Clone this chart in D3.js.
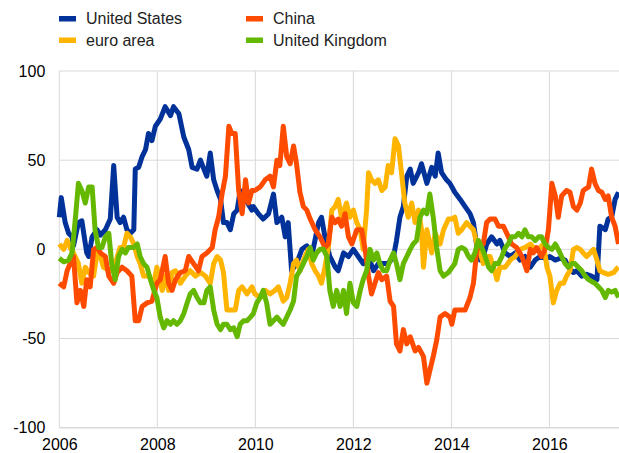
<!DOCTYPE html>
<html>
<head>
<meta charset="utf-8">
<script src="https://cdn.jsdelivr.net/npm/d3@7"></script>
<style>
  html, body { margin: 0; padding: 0; background: #fff; }
  svg { display: block; font-family: "Liberation Sans", Arial, sans-serif; }
</style>
</head>
<body>
<svg id="chart" width="619" height="453"></svg>
<script>
// Series: [decimal year, value]
const unitedStates = [
  [2006.00,18],[2006.04,29],[2006.12,15],[2006.19,9],[2006.26,7],[2006.29,2],[2006.39,15],[2006.46,16],
  [2006.56,-2],[2006.60,-4],[2006.67,7],[2006.77,11],[2006.84,8],[2006.94,11],[2007.04,17],[2007.11,47],
  [2007.18,18],[2007.24,15],[2007.31,18],[2007.38,11],[2007.45,9],[2007.52,11],[2007.55,45],[2007.62,46],
  [2007.69,52],[2007.76,56],[2007.82,65],[2007.89,61],[2007.96,69],[2008.06,73],[2008.16,80],[2008.27,75],
  [2008.33,80],[2008.44,76],[2008.54,63],[2008.64,56],[2008.71,46],[2008.81,45],[2008.88,50],[2008.95,45],
  [2009.01,41],[2009.08,54],[2009.15,39],[2009.22,33],[2009.29,28],[2009.35,15],[2009.42,15],[2009.49,11],
  [2009.56,20],[2009.63,22],[2009.69,33],[2009.80,28],[2009.93,22],[2009.96,24],[2010.06,20],[2010.16,17],
  [2010.27,20],[2010.37,31],[2010.44,15],[2010.54,18],[2010.61,7],[2010.67,15],[2010.74,-12],[2010.84,-8],
  [2010.95,0],[2011.05,2],[2011.15,-4],[2011.29,15],[2011.35,18],[2011.42,7],[2011.52,-4],[2011.63,-10],
  [2011.69,-12],[2011.80,-2],[2011.90,-4],[2012.00,0],[2012.10,-4],[2012.20,-8],[2012.31,-4],[2012.41,-12],
  [2012.51,-8],[2012.61,-8],[2012.71,-8],[2012.82,-4],[2012.88,5],[2012.95,18],[2013.02,24],[2013.09,41],
  [2013.16,45],[2013.22,37],[2013.33,43],[2013.39,48],[2013.50,37],[2013.60,46],[2013.67,41],[2013.73,54],
  [2013.80,43],[2013.90,39],[2013.97,37],[2014.07,32],[2014.18,28],[2014.28,24],[2014.38,20],[2014.45,15],
  [2014.52,1.5],[2014.59,-6],[2014.65,-4],[2014.72,3],[2014.82,7],[2014.93,3],[2014.99,5],[2015.10,-2],
  [2015.20,-4],[2015.30,-2],[2015.40,-6],[2015.50,-4],[2015.61,-10],[2015.71,-6],[2015.81,-4],[2015.91,-5],
  [2016.01,-4],[2016.12,-6],[2016.22,-5],[2016.32,-6],[2016.39,-10],[2016.49,-13],[2016.56,-12],[2016.66,-15],
  [2016.76,-14],[2016.86,-15],[2016.97,-17],[2017.03,13],[2017.14,11],[2017.20,17],[2017.27,18],[2017.34,28],
  [2017.41,32]
];

const euroArea = [
  [2006.00,3],[2006.09,0],[2006.16,5],[2006.22,1],[2006.29,-2],[2006.39,-8],[2006.46,-19],[2006.53,-10],
  [2006.60,-13],[2006.70,-15],[2006.77,-2],[2006.84,-4],[2006.90,-10],[2007.04,-12],[2007.14,-8],[2007.24,1],
  [2007.31,1],[2007.38,9],[2007.45,7],[2007.52,3],[2007.59,-4],[2007.65,-8],[2007.72,-15],[2007.82,-15],
  [2007.93,-19],[2007.99,-10],[2008.10,-23],[2008.16,-15],[2008.23,-23],[2008.30,-13],[2008.37,-12],[2008.47,-19],
  [2008.57,-15],[2008.67,-12],[2008.78,-15],[2008.88,-13],[2008.98,-15],[2009.08,-19],[2009.15,-8],[2009.22,-4],
  [2009.29,-6],[2009.35,-13],[2009.42,-34],[2009.49,-34],[2009.59,-34],[2009.66,-23],[2009.73,-21],[2009.83,-25],
  [2009.93,-21],[2009.99,-25],[2010.10,-27],[2010.20,-23],[2010.30,-25],[2010.40,-23],[2010.47,-21],[2010.57,-29],
  [2010.64,-27],[2010.71,-19],[2010.78,-8],[2010.84,-6],[2010.91,-12],[2011.01,-4],[2011.08,0],[2011.15,-8],
  [2011.22,-12],[2011.29,-15],[2011.35,-19],[2011.42,-10],[2011.49,1],[2011.56,22],[2011.63,24],[2011.69,28],
  [2011.76,18],[2011.86,26],[2011.93,18],[2012.00,22],[2012.07,15],[2012.14,11],[2012.20,0],[2012.27,22],
  [2012.31,43],[2012.37,39],[2012.44,37],[2012.51,39],[2012.58,33],[2012.65,35],[2012.71,47],[2012.78,43],
  [2012.85,62],[2012.92,58],[2012.99,41],[2013.05,26],[2013.12,18],[2013.19,26],[2013.26,15],[2013.33,22],
  [2013.39,11],[2013.43,-10],[2013.50,11],[2013.60,-2],[2013.67,9],[2013.77,3],[2013.84,11],[2013.94,17],
  [2014.01,17],[2014.07,18],[2014.14,9],[2014.21,11],[2014.31,15],[2014.38,13],[2014.45,11],[2014.52,3],
  [2014.59,-2],[2014.65,-8],[2014.72,-4],[2014.79,-4],[2014.86,-10],[2014.93,-17],[2014.99,-10],[2015.10,-10],
  [2015.20,-6],[2015.30,-4],[2015.40,0],[2015.50,1],[2015.61,3],[2015.71,0],[2015.81,1],[2015.88,3],
  [2015.95,-10],[2016.01,-15],[2016.08,-30],[2016.15,-23],[2016.22,-19],[2016.29,-19],[2016.35,-15],[2016.42,-12],
  [2016.49,0],[2016.56,1],[2016.63,0],[2016.69,-2],[2016.76,-4],[2016.83,-2],[2016.90,0],[2016.97,-6],
  [2017.03,-12],[2017.10,-13],[2017.20,-14],[2017.31,-13],[2017.37,-11],[2017.41,-10]
];

const china = [
  [2006.00,-19],[2006.09,-21],[2006.16,-12],[2006.22,-8],[2006.29,-4],[2006.36,-30],[2006.43,-23],[2006.50,-32],
  [2006.56,-17],[2006.63,-21],[2006.70,0],[2006.77,1],[2006.84,-2],[2006.94,-4],[2007.01,-15],[2007.11,-19],
  [2007.18,-13],[2007.28,-10],[2007.38,-12],[2007.48,-15],[2007.55,-40],[2007.62,-40],[2007.69,-32],[2007.79,-30],
  [2007.89,-29],[2007.99,-19],[2008.06,-17],[2008.16,-4],[2008.23,-19],[2008.30,-23],[2008.37,-17],[2008.47,-13],
  [2008.57,-12],[2008.64,-4],[2008.74,-8],[2008.84,-12],[2008.91,-4],[2009.01,-2],[2009.12,1],[2009.18,11],
  [2009.25,18],[2009.32,31],[2009.39,41],[2009.46,69],[2009.52,65],[2009.59,65],[2009.66,33],[2009.73,20],
  [2009.80,39],[2009.86,26],[2009.93,33],[2009.99,33],[2010.10,35],[2010.20,39],[2010.30,41],[2010.37,35],
  [2010.44,50],[2010.50,47],[2010.57,69],[2010.64,52],[2010.71,48],[2010.78,58],[2010.84,48],[2010.91,32],
  [2010.98,24],[2011.05,22],[2011.12,17],[2011.22,11],[2011.32,7],[2011.42,1],[2011.49,3],[2011.56,18],
  [2011.63,15],[2011.69,17],[2011.76,13],[2011.83,20],[2011.90,7],[2011.97,3],[2012.07,11],[2012.17,11],
  [2012.24,0],[2012.31,-15],[2012.37,-25],[2012.44,-19],[2012.51,-13],[2012.58,-17],[2012.68,-15],[2012.75,-29],
  [2012.82,-32],[2012.88,-53],[2012.95,-57],[2013.02,-45],[2013.09,-53],[2013.16,-49],[2013.26,-57],[2013.33,-55],
  [2013.43,-60],[2013.50,-75],[2013.56,-68],[2013.63,-60],[2013.70,-51],[2013.77,-38],[2013.87,-36],[2013.97,-38],
  [2014.01,-42],[2014.07,-34],[2014.18,-34],[2014.28,-34],[2014.38,-27],[2014.45,-19],[2014.52,0],[2014.59,1],
  [2014.65,3],[2014.72,15],[2014.79,17],[2014.89,17],[2014.96,13],[2015.06,13],[2015.13,9],[2015.23,3],
  [2015.33,1],[2015.44,-4],[2015.54,-12],[2015.61,0],[2015.67,-2],[2015.74,1],[2015.84,-4],[2015.91,0],
  [2015.98,11],[2016.05,37],[2016.12,30],[2016.18,18],[2016.25,30],[2016.35,33],[2016.42,32],[2016.49,24],
  [2016.56,22],[2016.63,26],[2016.69,33],[2016.80,35],[2016.86,45],[2016.93,37],[2017.00,33],[2017.07,32],
  [2017.14,28],[2017.20,30],[2017.27,18],[2017.34,13],[2017.41,3]
];

const unitedKingdom = [
  [2006.00,-5],[2006.09,-7],[2006.19,-6],[2006.26,-2],[2006.33,18],[2006.39,37],[2006.46,33],[2006.53,26],
  [2006.60,35],[2006.67,35],[2006.73,11],[2006.80,1],[2006.87,1],[2006.94,7],[2007.01,9],[2007.07,-8],
  [2007.14,-17],[2007.21,-4],[2007.28,0],[2007.35,-2],[2007.41,1],[2007.52,1],[2007.59,3],[2007.65,-4],
  [2007.72,-8],[2007.79,-10],[2007.86,-17],[2007.93,-23],[2007.99,-27],[2008.06,-38],[2008.13,-44],[2008.20,-40],
  [2008.27,-42],[2008.33,-40],[2008.40,-42],[2008.47,-40],[2008.54,-36],[2008.61,-30],[2008.67,-25],[2008.74,-23],
  [2008.81,-27],[2008.88,-30],[2008.95,-30],[2009.01,-23],[2009.08,-21],[2009.15,-34],[2009.22,-42],[2009.29,-45],
  [2009.35,-42],[2009.42,-42],[2009.49,-45],[2009.56,-44],[2009.63,-49],[2009.69,-42],[2009.76,-40],[2009.83,-40],
  [2009.90,-38],[2009.96,-36],[2010.03,-30],[2010.10,-27],[2010.16,-23],[2010.23,-30],[2010.30,-42],[2010.37,-40],
  [2010.44,-38],[2010.50,-40],[2010.57,-42],[2010.64,-38],[2010.71,-34],[2010.78,-29],[2010.84,-15],[2010.91,-12],
  [2010.98,-8],[2011.05,-4],[2011.12,1],[2011.18,-6],[2011.25,-2],[2011.32,0],[2011.39,0],[2011.46,-4],
  [2011.52,-23],[2011.59,-32],[2011.66,-23],[2011.73,-32],[2011.80,-23],[2011.86,-36],[2011.93,-19],[2012.00,-30],
  [2012.07,-32],[2012.14,-23],[2012.20,-17],[2012.27,-12],[2012.34,0],[2012.41,-6],[2012.48,-2],[2012.54,-8],
  [2012.61,-12],[2012.68,-12],[2012.75,-6],[2012.82,-2],[2012.88,-8],[2012.95,-17],[2013.02,-8],[2013.09,-4],
  [2013.16,0],[2013.22,3],[2013.29,5],[2013.36,18],[2013.43,22],[2013.50,20],[2013.56,31],[2013.63,18],
  [2013.70,1],[2013.77,-12],[2013.84,-15],[2013.94,-13],[2014.07,-8],[2014.14,0],[2014.21,1],[2014.28,0],
  [2014.35,-4],[2014.41,-6],[2014.48,-2],[2014.55,5],[2014.62,1],[2014.69,-4],[2014.76,-10],[2014.82,-12],
  [2014.89,-8],[2014.96,-8],[2015.03,-4],[2015.10,1],[2015.16,3],[2015.23,7],[2015.30,7],[2015.37,9],
  [2015.44,7],[2015.50,11],[2015.57,7],[2015.64,7],[2015.71,5],[2015.78,7],[2015.84,7],[2015.91,3],
  [2015.98,1],[2016.05,0],[2016.12,3],[2016.18,0],[2016.25,-4],[2016.32,-8],[2016.39,-10],[2016.46,-8],
  [2016.52,-8],[2016.59,-10],[2016.66,-12],[2016.73,-15],[2016.80,-17],[2016.86,-18],[2016.93,-19],[2017.00,-21],
  [2017.07,-23],[2017.14,-27],[2017.20,-23],[2017.27,-24],[2017.34,-23],[2017.41,-27]
];

const yTicks = [-100, -50, 0, 50, 100];
const xTicks = [2006, 2008, 2010, 2012, 2014, 2016];

// Drawing order: later series sit on top
const series = [
  { name: "United States",  color: "#003299", data: unitedStates },
  { name: "euro area",      color: "#FFB400", data: euroArea },
  { name: "China",          color: "#FF4B00", data: china },
  { name: "United Kingdom", color: "#65B800", data: unitedKingdom }
];

// Legend layout: two columns, two rows
const legendItems = [
  { name: "United States",  color: "#003299", col: 0, row: 0 },
  { name: "euro area",      color: "#FFB400", col: 0, row: 1 },
  { name: "China",          color: "#FF4B00", col: 1, row: 0 },
  { name: "United Kingdom", color: "#65B800", col: 1, row: 1 }
];

const svg = d3.select("#chart");
const plotLeft = 59.3, plotRight = 619, plotTop = 71, plotBottom = 427.7;

const x = d3.scaleLinear().domain([2006, 2017.42]).range([plotLeft, plotRight]);
const y = d3.scaleLinear().domain([-100, 100]).range([plotBottom, plotTop]);

// Grid lines
const grid = svg.append("g").attr("class", "grid");
grid.selectAll("line.h").data(yTicks).join("line")
  .attr("x1", plotLeft).attr("x2", plotRight)
  .attr("y1", d => y(d)).attr("y2", d => y(d))
  .attr("stroke", "#d9d9d9").attr("stroke-width", d => d === -100 ? 1.5 : 1);
grid.selectAll("line.v").data(xTicks).join("line")
  .attr("x1", d => x(d)).attr("x2", d => x(d))
  .attr("y1", plotTop).attr("y2", plotBottom)
  .attr("stroke", "#d9d9d9").attr("stroke-width", 1);

// Axes (labels only)
const yAxis = svg.append("g")
  .attr("transform", `translate(${plotLeft},0)`)
  .call(d3.axisLeft(y).tickValues(yTicks).tickFormat(d => String(d)).tickSize(0).tickPadding(14));
const xAxis = svg.append("g")
  .attr("transform", `translate(0,${plotBottom})`)
  .call(d3.axisBottom(x).tickValues(xTicks).tickFormat(d => String(d)).tickSize(0).tickPadding(11));
[yAxis, xAxis].forEach(g => {
  g.select(".domain").remove();
  g.selectAll("text")
    .attr("fill", "#000")
    .style("font-size", "16px")
    .style("font-family", "'Liberation Sans', Arial, sans-serif");
});

// Lines
const line = d3.line().x(d => x(d[0])).y(d => y(d[1]));
svg.append("g").selectAll("path").data(series).join("path")
  .attr("d", d => line(d.data))
  .attr("fill", "none")
  .attr("stroke", d => d.color)
  .attr("stroke-width", 5)
  .attr("stroke-linejoin", "round")
  .attr("stroke-linecap", "butt");

// Legend
const legend = svg.append("g");
const lg = legend.selectAll("g").data(legendItems).join("g")
  .attr("transform", d => `translate(${59 + d.col * 187},${16 + d.row * 21.5})`);
lg.append("rect").attr("width", 17).attr("height", 5.5).attr("fill", d => d.color);
lg.append("text")
  .attr("x", 27).attr("y", 8)
  .style("font-size", "16px")
  .attr("fill", "#222")
  .text(d => d.name);
</script>
</body>
</html>
